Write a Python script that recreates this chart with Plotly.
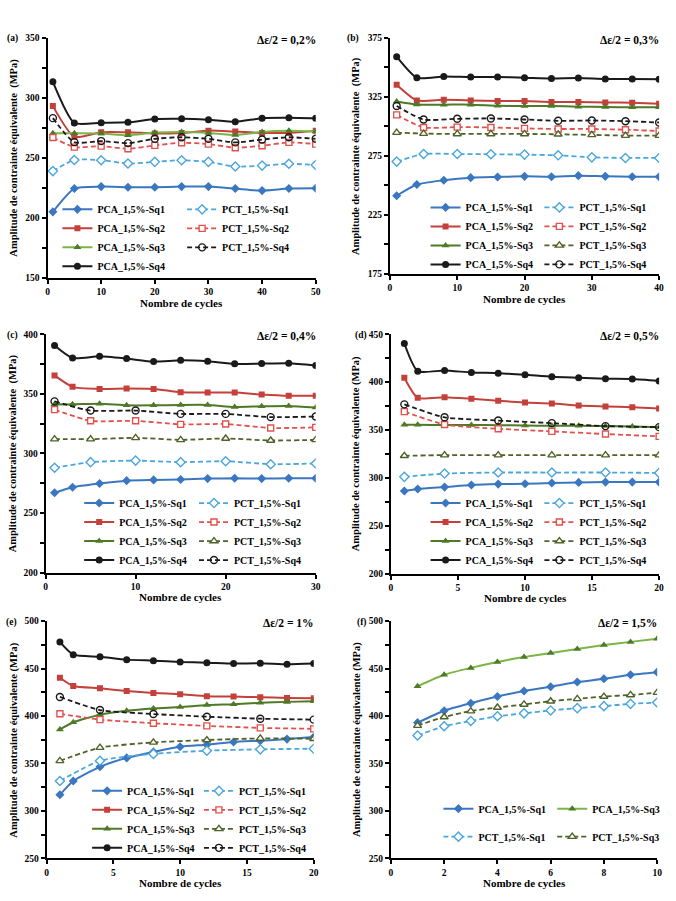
import plotly.graph_objects as go

W, H = 676, 901
FONT = "Liberation Serif"

# ---------------- DATA ----------------
# (a) delta eps/2 = 0,2 %
a_x = [1, 5, 10, 15, 20, 25, 30, 35, 40, 45, 50]
a_pca_sq1 = [205, 224.4, 226, 225.5, 225.5, 226, 226, 224.4, 222.7, 224.4, 224.6]
a_pca_sq2 = [293, 267.5, 271.3, 271.3, 270.2, 270.7, 272.6, 271.8, 270.7, 270.7, 272.4]
a_pca_sq3 = [270.5, 270.4, 270.2, 268.8, 271, 271.5, 270.7, 269, 271.5, 272.4, 271.8]
a_pca_sq4 = [313.2, 279, 279.2, 279.5, 282.2, 282.5, 281.7, 280, 283, 283.3, 282.8]
a_pct_sq1 = [238.9, 248.2, 248, 245.2, 246.6, 248, 246.6, 242.7, 243.5, 245, 244]
a_pct_sq2 = [266.9, 258.9, 259.7, 257.5, 260.3, 262.5, 261.4, 258.4, 260, 262.8, 261.4]
a_pct_sq4 = [283, 263, 263.9, 262.2, 265.8, 267.1, 265.8, 262.8, 265.2, 267.1, 265.8]

# (b) 0,3 %
b_x_pca = [1, 4, 8, 12, 16, 20, 24, 28, 32, 36, 40]
b_x_pct = [1, 5, 10, 15, 20, 25, 30, 35, 40]
b_pca_sq1 = [241.2, 250.7, 254.3, 256.5, 257.1, 257.6, 257.3, 258.2, 257.6, 257.3, 257.3]
b_pca_sq2 = [335.2, 321.9, 322.4, 321.9, 321.3, 321.3, 320.5, 320.5, 320.2, 319.9, 319.1]
b_pca_sq3 = [321, 318.5, 318.3, 318.3, 317.4, 317.1, 317.1, 316.6, 316.3, 316, 316]
b_pca_sq4 = [358.9, 341.1, 342.2, 341.6, 341.6, 341.1, 340.5, 340.8, 340, 340, 339.7]
b_pct_sq1 = [270.1, 276.5, 276.5, 276.3, 276, 275.4, 273.7, 273.2, 273.2]
b_pct_sq2 = [309.6, 299, 299.3, 299, 298.2, 297.7, 297.7, 297.1, 296]
b_pct_sq3 = [294.6, 293.8, 293.5, 293.5, 293.5, 293.2, 292.7, 292.1, 292.1]
b_pct_sq4 = [317.1, 305.7, 306.3, 306.6, 305.7, 304.6, 304.9, 304.3, 303.2]

# (c) 0,4 %
c_x_pca = [1, 3, 6, 9, 12, 15, 18, 21, 24, 27, 30]
c_x_pct = [1, 5, 10, 15, 20, 25, 30]
c_pca_sq1 = [267, 271.7, 274.8, 277.2, 277.8, 278.1, 278.9, 279.2, 278.9, 279.2, 279.2]
c_pca_sq2 = [365.5, 355.9, 354.2, 354.5, 354.2, 351.4, 351.2, 351.2, 349.5, 348.4, 348.4]
c_pca_sq3 = [341.2, 341.2, 341.8, 340.4, 340.4, 340.7, 340.7, 339, 339.6, 339.9, 338.5]
c_pca_sq4 = [390.6, 380.1, 381.5, 379.6, 377.1, 378.2, 377.4, 375.2, 375.4, 375.7, 373.8]
c_pct_sq1 = [288, 292.7, 294, 292.7, 293.5, 291, 291.6]
c_pct_sq2 = [336.8, 327.4, 327.4, 324.4, 324.7, 321.4, 321.9]
c_pct_sq3 = [312, 312, 313.1, 311.4, 312.6, 310.9, 311.4]
c_pct_sq4 = [343.7, 336, 336, 333.2, 333.2, 330.5, 331]

# (d) 0,5 %
d_x_pca = [1, 2, 4, 6, 8, 10, 12, 14, 16, 18, 20]
d_x_pct = [1, 4, 8, 12, 16, 20]
d_pca_sq1 = [286.3, 288.4, 290.4, 292.5, 293.5, 293.9, 294.6, 295.3, 295.6, 295.6, 295.6]
d_pca_sq2 = [404.6, 383.6, 384.3, 382.6, 380.5, 378.8, 377.8, 375.7, 374.7, 373.7, 372.6]
d_pca_sq3 = [355.4, 355.4, 355.2, 355.2, 355.1, 354.7, 354.4, 354.4, 354.1, 353.7, 353]
d_pca_sq4 = [440.4, 411.5, 412.2, 410.1, 409.4, 407.7, 405.6, 404.6, 403.6, 403.2, 401.2]
d_pct_sq1 = [301.1, 304.5, 305.6, 305.6, 305.6, 305.2]
d_pct_sq2 = [369.2, 355.8, 351.3, 348.6, 345.8, 343.4]
d_pct_sq3 = [323.1, 323.8, 323.8, 323.8, 323.8, 323.8]
d_pct_sq4 = [376.8, 363.3, 359.9, 357.2, 354.1, 353]

# (e) 1 %
e_x_pca = [1, 2, 4, 6, 8, 10, 12, 14, 16, 18, 20]
e_x_pct = [1, 4, 8, 12, 16, 20]
e_pca_sq1 = [317, 331.6, 346.5, 355.9, 362.2, 367.7, 369.8, 372.6, 374, 375.7, 377.8]
e_pca_sq2 = [440.3, 431.6, 429.2, 426.4, 424.3, 422.9, 420.8, 420.5, 419.8, 419.1, 418.8]
e_pca_sq3 = [385.8, 393.4, 401.4, 405.6, 408, 409.4, 411.5, 412.5, 413.9, 414.9, 415.6]
e_pca_sq4 = [478.1, 464.6, 462.5, 459.4, 458.3, 456.9, 456.2, 455.2, 455.6, 454.5, 455.2]
e_pct_sq1 = [331.6, 352.8, 360.1, 363.5, 364.9, 365.6]
e_pct_sq2 = [402.4, 396.2, 392.4, 389.6, 387.5, 386.5]
e_pct_sq3 = [352.8, 366.7, 372.2, 374.7, 376.4, 376]
e_pct_sq4 = [420.1, 406.3, 402.1, 399.3, 397.2, 396.2]

# (f) 1,5 %
f_x = [1, 2, 3, 4, 5, 6, 7, 8, 9, 10]
f_pca_sq1 = [393, 405.6, 413.5, 420.5, 426.4, 430.9, 435.8, 439.2, 443.4, 446.2]
f_pca_sq3 = [431.3, 443.4, 450.7, 456.9, 462.2, 466.3, 470.5, 474.7, 478.1, 481.3]
f_pct_sq1 = [379.5, 389.2, 394.8, 399.7, 402.8, 405.9, 408.3, 410.4, 412.8, 414.2]
f_pct_sq3 = [389.9, 399, 405.2, 409, 412.2, 415.6, 418.1, 420.5, 422.2, 424.7]

# ---------------- STYLES ----------------
BLUE, LBLUE = "#3A77C0", "#4BA6DC"
RED, LRED = "#C4403B", "#E0524E"
GREEN_L, GREEN_D, OLIVE = "#7DB446", "#4E7A27", "#4F6228"
BLACK = "#1A1A1A"

def style(key, green_light=False):
    if key == "pca1":
        return dict(line=dict(color=BLUE, width=2), marker=dict(symbol="diamond", size=7, color=BLUE))
    if key == "pct1":
        return dict(line=dict(color=LBLUE, width=1.8, dash="5px,3px"),
                    marker=dict(symbol="diamond", size=7, color="white", line=dict(color=LBLUE, width=1.4)))
    if key == "pca2":
        return dict(line=dict(color=RED, width=2), marker=dict(symbol="square", size=6, color=RED))
    if key == "pct2":
        return dict(line=dict(color=LRED, width=1.8, dash="5px,3px"),
                    marker=dict(symbol="square", size=6, color="white", line=dict(color=LRED, width=1.4)))
    if key == "pca3":
        lc = GREEN_L if green_light else GREEN_D
        return dict(line=dict(color=lc, width=2), marker=dict(symbol="triangle-up", size=7, color=GREEN_D))
    if key == "pct3":
        return dict(line=dict(color=OLIVE, width=1.8, dash="5px,3px"),
                    marker=dict(symbol="triangle-up", size=7, color="white", line=dict(color=OLIVE, width=1.4)))
    if key == "pca4":
        return dict(line=dict(color=BLACK, width=2), marker=dict(symbol="circle", size=7, color=BLACK))
    if key == "pct4":
        return dict(line=dict(color=BLACK, width=1.8, dash="5px,3px"),
                    marker=dict(symbol="circle-open", size=7, color=BLACK, line=dict(width=1.4)))

NAMES = {"pca1": "PCA_1,5%-Sq1", "pca2": "PCA_1,5%-Sq2", "pca3": "PCA_1,5%-Sq3", "pca4": "PCA_1,5%-Sq4",
         "pct1": "PCT_1,5%-Sq1", "pct2": "PCT_1,5%-Sq2", "pct3": "PCT_1,5%-Sq3", "pct4": "PCT_1,5%-Sq4"}

# panels: pixel domains (x0,x1,y0,y1), ranges, ticks, series, legend info
panels = [
    dict(lab="(a)", labx=3, eps="Δε/2 = 0,2%", px=(46, 317, 33, 276), xr=[0, 50], yr=[150, 350], y0t=0, dx=10, gl=True,
         series=[("pca1", a_x, a_pca_sq1, 0), ("pca2", a_x, a_pca_sq2, 0), ("pca3", a_x, a_pca_sq3, 0),
                 ("pca4", a_x, a_pca_sq4, 0), ("pct1", a_x, a_pct_sq1, 1), ("pct2", a_x, a_pct_sq2, 1),
                 ("pct4", a_x, a_pct_sq4, 1)],
         leg=(97, 223, 209), ytitle="Amplitude de contrainte équivalente  (MPa)"),
    dict(lab="(b)", labx=347, eps="Δε/2 = 0,3%", px=(392, 664, 33, 272), xr=[0, 40], yr=[175, 375], y0t=25, dx=10, gl=False,
         series=[("pca1", b_x_pca, b_pca_sq1, 0), ("pca2", b_x_pca, b_pca_sq2, 0), ("pca3", b_x_pca, b_pca_sq3, 0),
                 ("pca4", b_x_pca, b_pca_sq4, 0), ("pct1", b_x_pct, b_pct_sq1, 1), ("pct2", b_x_pct, b_pct_sq2, 1),
                 ("pct3", b_x_pct, b_pct_sq3, 1), ("pct4", b_x_pct, b_pct_sq4, 1)],
         leg=(469, 584, 207), ytitle="Amplitude de contrainte équivalente  (MPa)"),
    dict(lab="(c)", labx=3, eps="Δε/2 = 0,4%", px=(44, 317, 333, 574), xr=[0, 30], yr=[200, 400], y0t=0, dx=10, gl=False,
         series=[("pca1", c_x_pca, c_pca_sq1, 0), ("pca2", c_x_pca, c_pca_sq2, 0), ("pca3", c_x_pca, c_pca_sq3, 0),
                 ("pca4", c_x_pca, c_pca_sq4, 0), ("pct1", c_x_pct, c_pct_sq1, 1), ("pct2", c_x_pct, c_pct_sq2, 1),
                 ("pct3", c_x_pct, c_pct_sq3, 1), ("pct4", c_x_pct, c_pct_sq4, 1)],
         leg=(119, 235, 506), ytitle="Amplitude de contrainte équivalente  (MPa)"),
    dict(lab="(d)", labx=355, eps="Δε/2 = 0,5%", px=(393, 664, 333, 575), xr=[0, 20], yr=[200, 450], y0t=0, dx=5, gl=False,
         series=[("pca1", d_x_pca, d_pca_sq1, 0), ("pca2", d_x_pca, d_pca_sq2, 0), ("pca3", d_x_pca, d_pca_sq3, 0),
                 ("pca4", d_x_pca, d_pca_sq4, 0), ("pct1", d_x_pct, d_pct_sq1, 1), ("pct2", d_x_pct, d_pct_sq2, 1),
                 ("pct3", d_x_pct, d_pct_sq3, 1), ("pct4", d_x_pct, d_pct_sq4, 1)],
         leg=(469, 584, 506), ytitle="Amplitude de contrainte équivalente (MPa)"),
    dict(lab="(e)", labx=2, eps="Δε/2 = 1%", px=(45, 315, 623, 863), xr=[0, 20], yr=[250, 500], y0t=0, dx=5, gl=False,
         series=[("pca1", e_x_pca, e_pca_sq1, 0), ("pca2", e_x_pca, e_pca_sq2, 0), ("pca3", e_x_pca, e_pca_sq3, 0),
                 ("pca4", e_x_pca, e_pca_sq4, 0), ("pct1", e_x_pct, e_pct_sq1, 1), ("pct2", e_x_pct, e_pct_sq2, 1),
                 ("pct3", e_x_pct, e_pct_sq3, 1), ("pct4", e_x_pct, e_pct_sq4, 1)],
         leg=(127, 240, 797), ytitle="Amplitude de contrainte équivalente (MPa)"),
    dict(lab="(f)", labx=357, eps="Δε/2 = 1,5%", px=(393, 662, 623, 863), xr=[0, 10], yr=[250, 500], y0t=0, dx=2, gl=True,
         series=[("pca1", f_x, f_pca_sq1, 0), ("pct1", f_x, f_pct_sq1, 0),
                 ("pca3", f_x, f_pca_sq3, 1), ("pct3", f_x, f_pct_sq3, 1)],
         leg=(482, 597, 815), ytitle="Amplitude de contrainte équivalente (MPa)", gap=9),
]

fig = go.Figure()
layout = dict(width=W, height=H, margin=dict(l=0, r=0, t=0, b=0),
              paper_bgcolor="white", plot_bgcolor="white",
              font=dict(family=FONT, size=10, color="black", weight="bold"),
              showlegend=True, annotations=[])

tickfont = dict(family=FONT, size=9.5, color="black", weight="bold")
for i, p in enumerate(panels):
    n = i + 1
    xs = "" if n == 1 else str(n)
    x0, x1, y0, y1 = p["px"]
    xd = [x0 / W, x1 / W]
    yd = [1 - y1 / H, 1 - y0 / H]
    layout["xaxis" + xs] = dict(domain=xd, range=p["xr"], anchor="y" + xs, dtick=p["dx"], tick0=0,
                                showline=True, linecolor="black", linewidth=2, ticks="outside",
                                ticklen=4, tickwidth=1.5, tickcolor="black", showgrid=False,
                                zeroline=False, tickfont=tickfont)
    layout["yaxis" + xs] = dict(domain=yd, range=p["yr"], anchor="x" + xs, dtick=50, tick0=p["y0t"],
                                showline=True, linecolor="black", linewidth=2, ticks="outside",
                                ticklen=4, tickwidth=1.5, tickcolor="black", showgrid=False,
                                zeroline=False, tickfont=tickfont,
                                minor=dict(dtick=25, ticks="outside", ticklen=4, tickcolor="black",
                                           tickwidth=1.5, showgrid=False))
    # legends
    lt1, lt2, row1 = p["leg"]
    lnames = []
    for c, tx in enumerate((lt1, lt2)):
        k = 2 * i + c + 1
        lname = "legend" if k == 1 else "legend" + str(k)
        lnames.append(lname)
        layout[lname] = dict(x=(tx - 41) / W, y=1 - (row1 - 17) / H, xanchor="left", yanchor="top",
                             xref="paper", yref="paper", bgcolor="rgba(0,0,0,0)", borderwidth=0,
                             itemwidth=30, tracegroupgap=p.get("gap", 0), traceorder="grouped",
                             font=dict(family=FONT, size=10, color="black", weight="bold"))
    for j, (key, xv, yv, col) in enumerate(p["series"]):
        st = style(key, green_light=p["gl"])
        fig.add_trace(go.Scatter(x=xv, y=yv, mode="lines+markers", name=NAMES[key],
                                 line=dict(shape="spline", smoothing=0.6, **st["line"]),
                                 marker=st["marker"], xaxis="x" + xs, yaxis="y" + xs,
                                 legend=lnames[col], legendgroup="g%d_%d" % (n, j)))
    # annotations
    cx = (x0 + x1) / 2
    cy = (y0 + y1) / 2
    left_col = n % 2 == 1
    layout["annotations"] += [
        dict(text="<b>%s</b>" % p["lab"], x=p["labx"] / W, y=1 - (y0 + 1) / H, xref="paper", yref="paper",
             xanchor="left", yanchor="middle", showarrow=False, font=dict(family=FONT, size=9.5)),
        dict(text="<b>%s</b>" % p["eps"], x=(x1 + 2) / W, y=1 - (y0 + 2) / H, xref="paper", yref="paper",
             xanchor="right", yanchor="middle", showarrow=False, font=dict(family=FONT, size=11.5)),
        dict(text="<b>Nombre de cycles</b>", x=cx / W, y=1 - (y1 + 25) / H, xref="paper", yref="paper",
             xanchor="center", yanchor="middle", showarrow=False, font=dict(family=FONT, size=11)),
        dict(text="<b>%s</b>" % p["ytitle"], x=(12 if left_col else 358) / W, y=1 - cy / H,
             xref="paper", yref="paper", xanchor="center", yanchor="middle", textangle=-90,
             showarrow=False, font=dict(family=FONT, size=10.5)),
    ]

fig.update_layout(**layout)
fig.write_html("out.html")
